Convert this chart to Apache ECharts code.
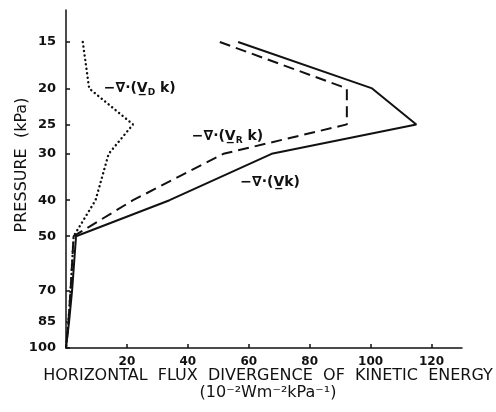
<!DOCTYPE html>
<html><head><meta charset="utf-8">
<script src="https://cdn.jsdelivr.net/npm/echarts@6/dist/echarts.min.js"></script>
<style>html,body{margin:0;padding:0;background:#fff}#c{width:496px;height:412px}</style>
</head><body><div id="c"></div>
<script>
const pressure = [15, 20, 25, 30, 40, 50, 70, 85, 100];
const divTotal = [56.5, 100.5, 115, 67.5, 34, 3.3, 2, 1, 0];      // -∇·(V k)  solid
const divRot   = [50.5, 92.2, 92.2, 51.7, 22, 2.5, 1.5, 0.8, 0]; // -∇·(V_R k) dashed
const divDiv   = [5.5, 7.6, 22, 14, 9.7, 2.5, 1.5, 0.8, 0];     // -∇·(V_D k) dotted
const yTicks = [15, 20, 25, 30, 40, 50, 70, 85, 100];
const xTicks = [20, 40, 60, 80, 100, 120];

const font = 'DejaVu Sans';
const ink = '#111';
function pairs(xs) { return xs.map((x, i) => [x, pressure[i]]); }

const labelRich = {
  m: { fontFamily: font, fontSize: 14, color: ink, fontWeight: 'bold' },
  s: { fontFamily: font, fontSize: 9, color: ink, fontWeight: 'bold', verticalAlign: 'bottom', padding: [8, 0, 0, 0] }
};
function ann(x, y, sub) {
  return {
    coord: [x, y],
    label: {
      show: true, position: 'inside',
      formatter: sub ? '{m|−∇·(V̲}{s|' + sub + '}{m| k)}' : '{m|−∇·(V̲k)}',
      rich: labelRich
    }
  };
}
const hidden = { symbol: 'rect', symbolSize: 1, itemStyle: { color: 'rgba(0,0,0,0)' } };

const chart = echarts.init(document.getElementById('c'));
chart.setOption({
  animation: false,
  backgroundColor: '#fff',
  grid: { left: 66, right: 34, top: 10, bottom: 64, outerBoundsMode: 'none', containLabel: false },
  xAxis: {
    type: 'value', min: 0, max: 130,
    axisLine: { lineStyle: { color: ink, width: 1.5 } },
    axisTick: { inside: true, length: 4, lineStyle: { color: ink, width: 1.5 }, customValues: xTicks },
    axisLabel: { customValues: xTicks, margin: 8, fontFamily: font, fontSize: 12, fontWeight: 'bold', color: ink },
    splitLine: { show: false },
    name: 'HORIZONTAL  FLUX  DIVERGENCE  OF  KINETIC  ENERGY\n(10⁻²Wm⁻²kPa⁻¹)',
    nameLocation: 'middle', nameGap: 19, nameMoveOverlap: false,
    nameTextStyle: { fontFamily: font, fontSize: 16, color: ink, lineHeight: 17, verticalAlign: 'top', padding: [0, 0, 0, 8] }
  },
  yAxis: {
    type: 'log', inverse: true, min: 12.3, max: 100, logBase: 10,
    axisLine: { lineStyle: { color: ink, width: 1.5 } },
    axisTick: { inside: true, length: 4, lineStyle: { color: ink, width: 1.5 }, customValues: yTicks },
    axisLabel: { customValues: yTicks, margin: 10, fontFamily: font, fontSize: 13, fontWeight: 'bold', color: ink },
    splitLine: { show: false },
    name: 'PRESSURE  (kPa)', nameLocation: 'middle', nameGap: 36, nameRotate: 90, nameMoveOverlap: false,
    nameTextStyle: { fontFamily: font, fontSize: 16, color: ink, padding: [0, 0, 0, 28] }
  },
  series: [
    {
      type: 'line', data: pairs(divTotal), symbol: 'none',
      lineStyle: { color: ink, width: 2 },
      markPoint: Object.assign({ data: [ann(67, 35.9, null)] }, hidden)
    },
    {
      type: 'line', data: pairs(divRot), symbol: 'none',
      lineStyle: { color: ink, width: 2, type: [11, 6] },
      markPoint: Object.assign({ data: [ann(53, 27.0, 'R')] }, hidden)
    },
    {
      type: 'line', data: pairs(divDiv), symbol: 'none',
      lineStyle: { color: ink, width: 2.4, type: [0.1, 4.4], cap: 'round' },
      markPoint: Object.assign({ data: [ann(24.2, 20.0, 'D')] }, hidden)
    }
  ]
});
</script></body></html>
